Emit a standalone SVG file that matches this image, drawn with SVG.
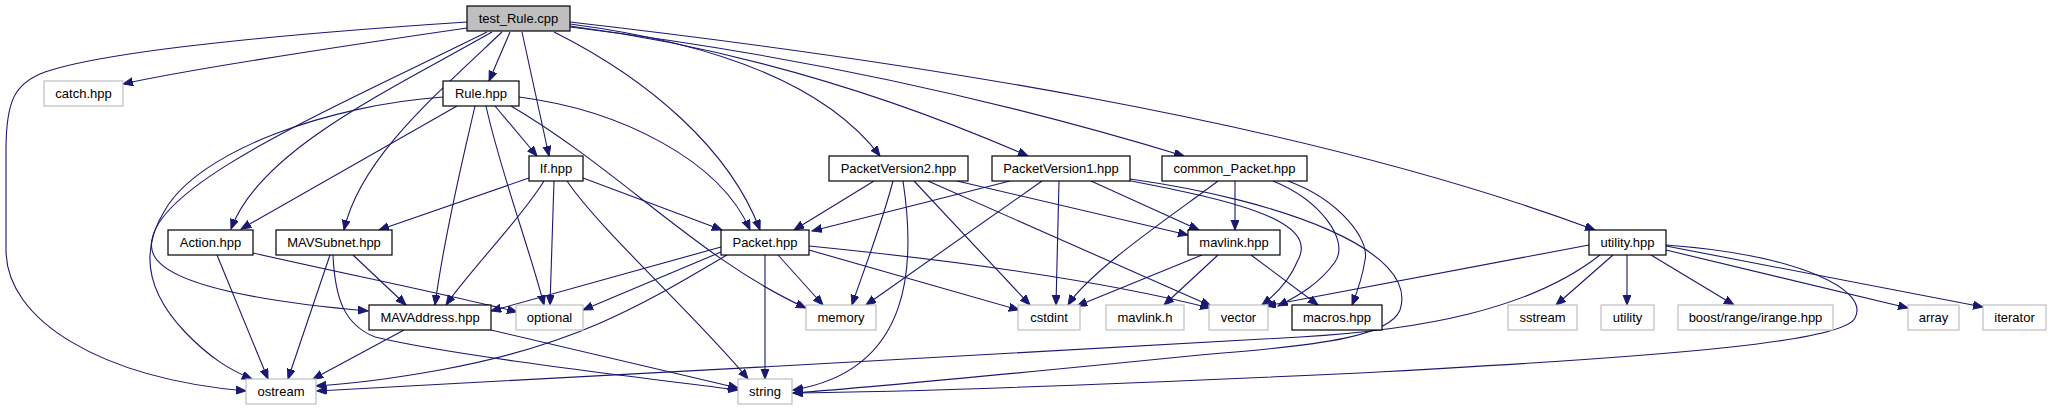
<svg xmlns="http://www.w3.org/2000/svg" width="2051" height="411" viewBox="0 0 2051 411">
<style>
.n rect{fill:#fff;stroke:#000;stroke-width:1.2}
.g rect{fill:#fff;stroke:#bfbfbf;stroke-width:1.2}
.r rect{fill:#bfbfbf;stroke:#000;stroke-width:1.2}
text{font-family:"Liberation Sans",Arial,sans-serif;font-size:13px;text-anchor:middle;fill:#000}
#edges path{fill:none;stroke:#191970;stroke-width:1.1;marker-end:url(#a)}
</style>
<defs>
<marker id="a" markerWidth="12" markerHeight="9" refX="10" refY="4" orient="auto" markerUnits="userSpaceOnUse">
<path d="M0,0 L10,4 L0,8 z" fill="#191970" stroke="#191970" stroke-width="1"/>
</marker>
</defs>
<rect width="2051" height="411" fill="#fff"/>
<g id="edges">
<!-- test_Rule.cpp -->
<path d="M467,22 C300,33 110,50 45,72 C15,83 6,100 6,150 L6,250 C6,320 100,378 246,391"/>
<path d="M467,28 C350,45 200,67 123,84"/>
<path d="M492,32 C390,90 260,150 231,229"/>
<path d="M487,32 C330,110 140,190 152,250 C160,290 300,305 368,311"/>
<path d="M502,32 C430,100 360,160 344,230"/>
<path d="M510,32 L489,81"/>
<path d="M522,32 L549,156"/>
<path d="M554,32 C650,80 730,150 760,230"/>
<path d="M570,24 C730,45 830,90 880,156"/>
<path d="M570,26 C750,50 900,100 1028,156"/>
<path d="M570,27 C800,55 1000,100 1184,156"/>
<path d="M570,22 C900,60 1300,120 1595,230"/>
<!-- Rule.hpp -->
<path d="M457,106 L241,229"/>
<path d="M443,97 C330,105 200,150 165,210 C140,250 145,290 185,332 C210,358 230,370 252,379"/>
<path d="M475,106 C465,150 445,230 435,305"/>
<path d="M486,106 C500,170 530,250 544,305"/>
<path d="M495,106 L537,156"/>
<path d="M511,106 C620,170 700,260 806,308"/>
<path d="M519,97 C620,110 720,160 750,230"/>
<!-- If.hpp -->
<path d="M529,178 L379,230"/>
<path d="M544,181 C520,220 470,270 446,305"/>
<path d="M554,181 L550,305"/>
<path d="M583,178 L722,230"/>
<path d="M567,181 C600,230 700,320 748,379"/>
<!-- PacketVersion2.hpp -->
<path d="M874,181 L794,230"/>
<path d="M893,181 C880,230 860,280 852,305"/>
<path d="M903,181 C915,260 915,370 793,390"/>
<path d="M914,181 L1030,305"/>
<path d="M928,181 L1211,306"/>
<path d="M957,181 L1188,235"/>
<!-- PacketVersion1.hpp -->
<path d="M1010,181 L812,231"/>
<path d="M1042,181 L866,305"/>
<path d="M1059,181 L1056,305"/>
<path d="M1091,181 L1199,230"/>
<path d="M1126,180 C1230,200 1320,220 1298,260 C1290,280 1275,295 1262,305"/>
<path d="M1130,179 C1280,200 1420,250 1400,310 C1390,335 1330,345 1200,355 C1050,370 900,385 793,393"/>
<!-- common_Packet.hpp -->
<path d="M1235,181 L1235,230"/>
<path d="M1218,181 C1180,210 1090,270 1068,305"/>
<path d="M1273,181 C1320,200 1350,240 1335,262 C1320,283 1300,295 1278,306"/>
<path d="M1288,181 C1340,200 1370,240 1365,260 C1362,280 1356,295 1352,305"/>
<!-- mavlink.hpp -->
<path d="M1202,255 L1077,306"/>
<path d="M1218,255 L1164,305"/>
<path d="M1251,255 L1318,305"/>
<!-- utility.hpp -->
<path d="M1589,245 L1266,306"/>
<path d="M1600,255 C1530,310 1420,330 1300,337 C1000,355 600,375 317,391"/>
<path d="M1613,255 L1556,305"/>
<path d="M1627,255 L1627,305"/>
<path d="M1651,255 L1734,305"/>
<path d="M1666,250 L1908,308"/>
<path d="M1666,246 L1983,307"/>
<path d="M1666,245 C1800,255 1870,290 1855,318 C1845,340 1700,355 1360,373 C1100,385 900,392 793,393"/>
<!-- Action.hpp -->
<path d="M253,253 C350,275 450,295 517,312"/>
<path d="M217,255 L268,379"/>
<!-- MAVSubnet.hpp -->
<path d="M353,255 L406,305"/>
<path d="M330,255 L288,379"/>
<path d="M333,255 C335,300 345,325 375,337 C450,355 620,375 738,390"/>
<!-- MAVAddress.hpp -->
<path d="M404,330 L313,379"/>
<path d="M491,330 L738,388"/>
<!-- Packet.hpp -->
<path d="M721,247 L491,311"/>
<path d="M721,252 L583,310"/>
<path d="M727,255 C650,300 580,345 440,370 C390,379 350,384 316,386"/>
<path d="M765,255 L765,379"/>
<path d="M778,255 L823,305"/>
<path d="M809,250 L1019,310"/>
<path d="M809,246 C950,260 1100,280 1210,308"/>
</g>
<g id="test_Rule" class="r"><rect x="467" y="6" width="103" height="25"/><text x="518.5" y="23">test_Rule.cpp</text></g>
<g id="catch" class="g"><rect x="44" y="81" width="79" height="25"/><text x="83.5" y="98">catch.hpp</text></g>
<g id="Rule" class="n"><rect x="443" y="81" width="76" height="25"/><text x="481" y="98">Rule.hpp</text></g>
<g id="If" class="n"><rect x="529" y="156" width="54" height="25"/><text x="556" y="173">If.hpp</text></g>
<g id="PacketVersion2" class="n"><rect x="829" y="156" width="139" height="25"/><text x="898.5" y="173">PacketVersion2.hpp</text></g>
<g id="PacketVersion1" class="n"><rect x="992" y="156" width="138" height="25"/><text x="1061" y="173">PacketVersion1.hpp</text></g>
<g id="common_Packet" class="n"><rect x="1162" y="156" width="145" height="25"/><text x="1234.5" y="173">common_Packet.hpp</text></g>
<g id="Action" class="n"><rect x="168" y="230" width="85" height="25"/><text x="210.5" y="247">Action.hpp</text></g>
<g id="MAVSubnet" class="n"><rect x="276" y="230" width="116" height="25"/><text x="334" y="247">MAVSubnet.hpp</text></g>
<g id="Packet" class="n"><rect x="721" y="230" width="88" height="25"/><text x="765" y="247">Packet.hpp</text></g>
<g id="mavlink_hpp" class="n"><rect x="1188" y="230" width="92" height="25"/><text x="1234" y="247">mavlink.hpp</text></g>
<g id="utility_hpp" class="n"><rect x="1589" y="230" width="77" height="25"/><text x="1627.5" y="247">utility.hpp</text></g>
<g id="MAVAddress" class="n"><rect x="369" y="305" width="122" height="25"/><text x="430" y="322">MAVAddress.hpp</text></g>
<g id="optional" class="g"><rect x="516" y="305" width="67" height="25"/><text x="549.5" y="322">optional</text></g>
<g id="memory" class="g"><rect x="806" y="305" width="70" height="25"/><text x="841" y="322">memory</text></g>
<g id="cstdint" class="g"><rect x="1018" y="305" width="62" height="25"/><text x="1049" y="322">cstdint</text></g>
<g id="mavlink_h" class="g"><rect x="1106" y="305" width="78" height="25"/><text x="1145" y="322">mavlink.h</text></g>
<g id="vector" class="g"><rect x="1209" y="305" width="59" height="25"/><text x="1238.5" y="322">vector</text></g>
<g id="macros" class="n"><rect x="1292" y="305" width="90" height="25"/><text x="1337" y="322">macros.hpp</text></g>
<g id="sstream" class="g"><rect x="1508" y="305" width="69" height="25"/><text x="1542.5" y="322">sstream</text></g>
<g id="utility" class="g"><rect x="1601" y="305" width="53" height="25"/><text x="1627.5" y="322">utility</text></g>
<g id="irange" class="g"><rect x="1678" y="305" width="155" height="25"/><text x="1755.5" y="322">boost/range/irange.hpp</text></g>
<g id="array" class="g"><rect x="1908" y="305" width="51" height="25"/><text x="1933.5" y="322">array</text></g>
<g id="iterator" class="g"><rect x="1983" y="305" width="63" height="25"/><text x="2014.5" y="322">iterator</text></g>
<g id="ostream" class="g"><rect x="246" y="379" width="70" height="25"/><text x="281" y="396">ostream</text></g>
<g id="string" class="g"><rect x="738" y="379" width="54" height="25"/><text x="765" y="396">string</text></g>
</svg>
